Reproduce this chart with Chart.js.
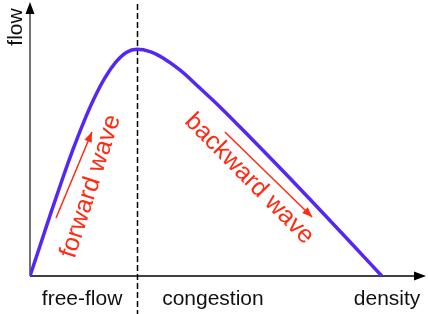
<!DOCTYPE html>
<html>
<head>
<meta charset="utf-8">
<script src="https://cdn.jsdelivr.net/npm/chart.js@4/dist/chart.umd.min.js"></script>
<style>
  html, body { margin: 0; padding: 0; background: #fff; }
  #wrap { width: 428px; height: 314px; position: relative; }
</style>
</head>
<body>
<div id="wrap"><canvas id="fd"></canvas></div>
<script>
// fundamental diagram, arbitrary units (jam density = 100, capacity = 100)
const density = [0, 3.04, 6.08, 9.12, 12.17, 15.21, 18.25, 21.29, 24.33, 27.37, 30.42, 34.1, 37.8, 42.6, 48.3, 54, 62.5, 76.8, 91, 100];
const flow    = [0, 14.25, 28.5, 42.35, 55.6, 67.7, 78.4, 87.4, 94.2, 98.6, 100, 99, 96.2, 90.9, 82.9, 74.6, 61.3, 38.4, 15, 0];
const criticalDensity = 30.42;

const regionLabels = ['free-flow', 'congestion', 'density'];
const regionLabelX = [14.8, 52, 101.5];

// wave annotations: [x0, y0, x1, y1] in data units, text centre + angle
const waveText   = ['forward wave', 'backward wave'];
const waveArrows = [[7.4, 25.6, 17.6, 63.5], [55.4, 63.5, 80.2, 26.0]];
const waveCentre = [[17.3, 39.5], [62.3, 42.8]];
const waveAngle  = [-72, 45.5];

const red = '#ff2a12';

function arrowHead(ctx, x0, y0, x1, y1, len, half) {
  const a = Math.atan2(y1 - y0, x1 - x0);
  ctx.beginPath();
  ctx.moveTo(x1, y1);
  ctx.lineTo(x1 - len * Math.cos(a) + half * Math.sin(a), y1 - len * Math.sin(a) - half * Math.cos(a));
  ctx.lineTo(x1 - len * Math.cos(a) - half * Math.sin(a), y1 - len * Math.sin(a) + half * Math.cos(a));
  ctx.closePath();
  ctx.fill();
}

const decorations = {
  id: 'decorations',
  beforeDatasetsDraw(chart) {
    const { ctx, chartArea, scales: { x, y } } = chart;
    const x0 = x.getPixelForValue(0), y0 = y.getPixelForValue(0);
    ctx.save();
    // critical density
    ctx.strokeStyle = '#000';
    ctx.lineWidth = 1.5;
    ctx.setLineDash([6, 3]);
    const xc = Math.round(x.getPixelForValue(criticalDensity)) + 0.5;
    ctx.beginPath();
    ctx.moveTo(xc, chartArea.top);
    ctx.lineTo(xc, chart.height);
    ctx.stroke();
    ctx.setLineDash([]);
    // axes with arrows
    ctx.strokeStyle = '#444';
    ctx.fillStyle = '#000';
    ctx.beginPath();
    ctx.moveTo(x0, y0);
    ctx.lineTo(x0, chartArea.top + 8);
    ctx.stroke();
    arrowHead(ctx, x0, y0, x0, chartArea.top - 2, 12, 4.5);
    ctx.strokeStyle = '#000';
    ctx.beginPath();
    ctx.moveTo(x0, y0);
    ctx.lineTo(chartArea.right - 8, y0);
    ctx.stroke();
    arrowHead(ctx, x0, y0, chartArea.right + 2, y0, 12, 4.5);
    ctx.restore();
  },
  afterDatasetsDraw(chart) {
    const { ctx, scales: { x, y } } = chart;
    ctx.save();
    ctx.fillStyle = '#111';
    ctx.font = '21px "Liberation Sans", Arial, sans-serif';
    ctx.textAlign = 'center';
    ctx.textBaseline = 'alphabetic';
    regionLabels.forEach((t, i) => ctx.fillText(t, x.getPixelForValue(regionLabelX[i]), 305));
    ctx.save();
    ctx.translate(22, 27);
    ctx.rotate(-Math.PI / 2);
    ctx.fillText('flow', 0, 0);
    ctx.restore();

    ctx.fillStyle = red;
    ctx.strokeStyle = red;
    ctx.lineWidth = 1.5;
    waveArrows.forEach(a => {
      const px0 = x.getPixelForValue(a[0]), py0 = y.getPixelForValue(a[1]);
      const px1 = x.getPixelForValue(a[2]), py1 = y.getPixelForValue(a[3]);
      ctx.beginPath();
      ctx.moveTo(px0, py0);
      ctx.lineTo(px1, py1);
      ctx.stroke();
      arrowHead(ctx, px0, py0, px1, py1, 10, 4);
    });
    ctx.font = '25px "Liberation Sans", Arial, sans-serif';
    ctx.textBaseline = 'middle';
    waveText.forEach((t, i) => {
      ctx.save();
      ctx.translate(x.getPixelForValue(waveCentre[i][0]), y.getPixelForValue(waveCentre[i][1]));
      ctx.rotate(waveAngle[i] * Math.PI / 180);
      ctx.fillText(t, 0, 0);
      ctx.restore();
    });
    ctx.restore();
  }
};

new Chart(document.getElementById('fd'), {
  type: 'line',
  data: {
    datasets: [{
      data: density.map((d, i) => ({ x: d, y: flow[i] })),
      borderColor: '#5527f5',
      borderWidth: 3.5,
      pointRadius: 0,
      cubicInterpolationMode: 'monotone',
      fill: false
    }]
  },
  options: {
    responsive: true,
    maintainAspectRatio: false,
    animation: false,
    layout: { padding: { left: 30, right: 4, top: 4, bottom: 38 } },
    plugins: { legend: { display: false }, tooltip: { enabled: false } },
    scales: {
      x: { type: 'linear', min: 0, max: 112, display: false },
      y: { type: 'linear', min: 0, max: 120, display: false }
    }
  },
  plugins: [decorations]
});
</script>
</body>
</html>
